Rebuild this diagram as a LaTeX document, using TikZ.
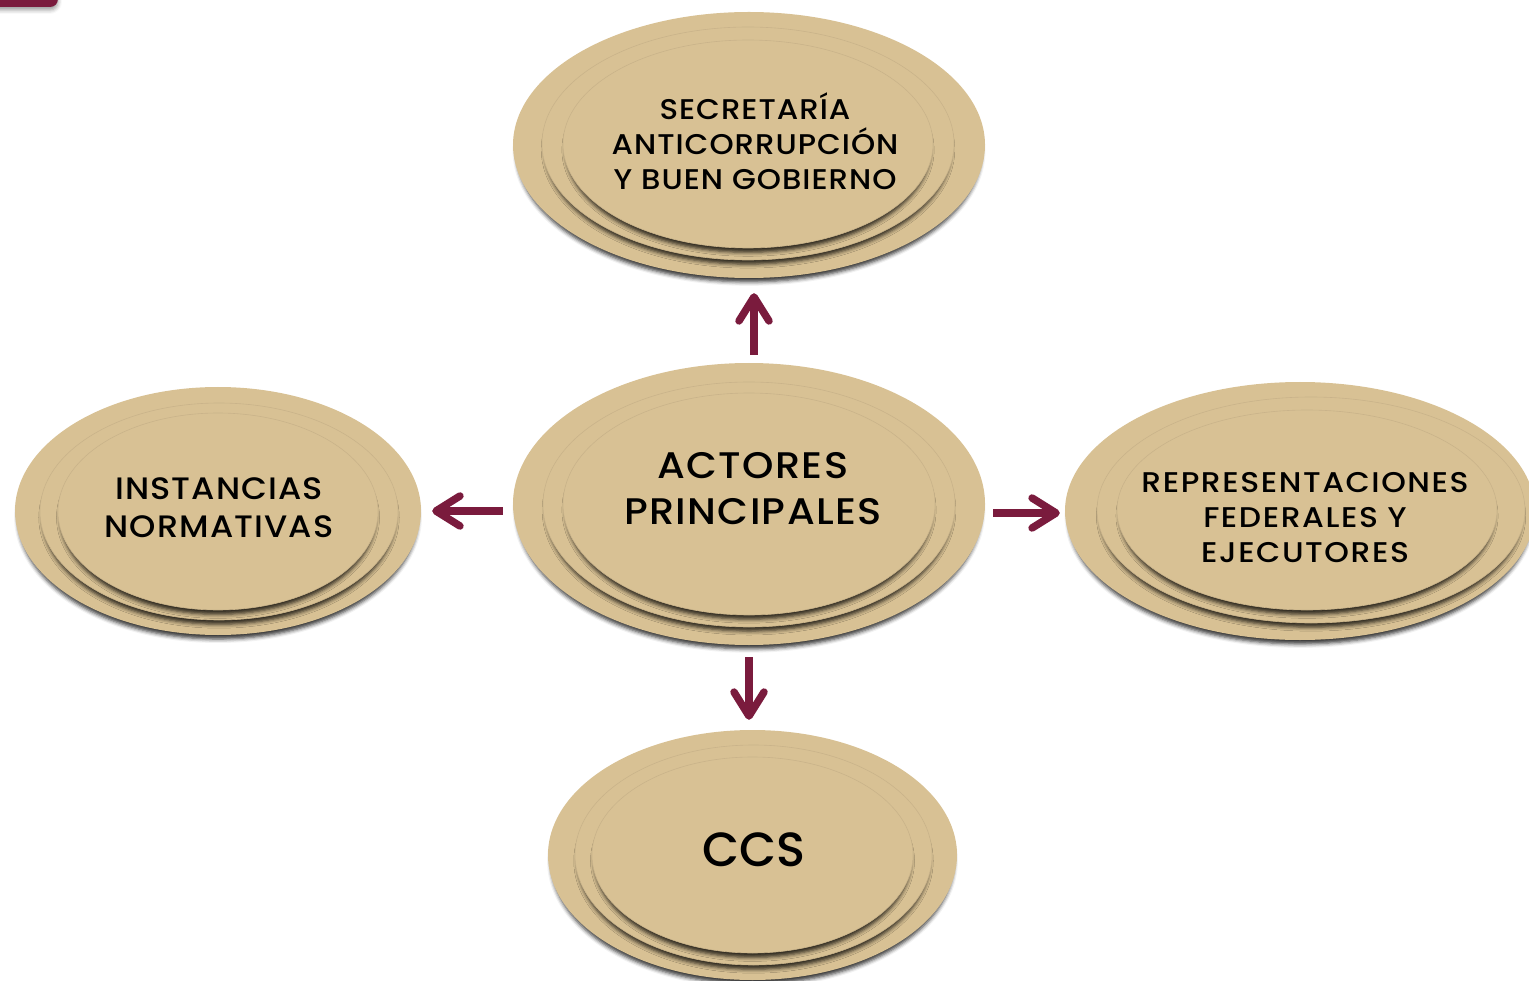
\documentclass[tikz,border=0pt]{standalone}
\usepackage{fontspec}
\setmainfont{Poppins}[UprightFont=* Medium]
\newfontfamily\spaced{Poppins}[UprightFont=* Medium, FakeStretch=1.08, LetterSpace=3.5]
\newfontfamily\wspaced{Poppins}[UprightFont=* Medium, FakeStretch=1.1, LetterSpace=5.5]
\usetikzlibrary{shapes.geometric, arrows.meta, shadows.blur}
\definecolor{tanfill}{RGB}{216,193,148}
\definecolor{maroon}{RGB}{122,27,61}
\tikzset{
  ell/.style={ellipse, fill=tanfill, draw=none, inner sep=0pt,
    blur shadow={shadow xshift=0pt, shadow yshift=-6pt, shadow scale=0.985, shadow blur radius=4pt, shadow opacity=80}},
  rim/.style={draw=tanfill!93!black, line width=0.6pt},
  lbl/.style={align=center, text=black, inner sep=0pt},
  arr/.style={draw=maroon, line width=7.5pt,
    -{Straight Barb[round, length=24pt, width=30pt]}}
}
\begin{document}
\begin{tikzpicture}[x=1pt, y=-1pt]
\useasboundingbox (0,0) rectangle (1529,981);
\clip (0,0) rectangle (1529,981);
% corner tab
\fill[maroon, rounded corners=8pt, blur shadow={shadow xshift=0pt, shadow yshift=-3pt, shadow blur radius=4pt, shadow opacity=40}] (-20,-20) rectangle (58,7);
% top
\node[ell, minimum width=472pt, minimum height=266pt] (t) at (749,145) {};
\node[ell, rim, minimum width=412pt, minimum height=233pt] (t2) at (748,143.5) {};
\node[ell, rim, minimum width=370pt, minimum height=208pt] (t3) at (748,144) {};
\node[lbl, font=\spaced\fontsize{28.5}{35}\selectfont] (tt) at (755,141) {SECRETARÍA\\ANTICORRUPCIÓN\\Y BUEN GOBIERNO};
% center
\node[ell, minimum width=472pt, minimum height=282pt] (c) at (749,504) {};
\node[ell, rim, minimum width=412pt, minimum height=245pt] (c2) at (749,504.5) {};
\node[ell, rim, minimum width=372pt, minimum height=222pt] (c3) at (749,504) {};
\node[lbl, font=\spaced\fontsize{37}{46}\selectfont] (ct) at (753,489) {ACTORES\\PRINCIPALES};
% left
\node[ell, minimum width=406pt, minimum height=248pt] (l) at (218,511) {};
\node[ell, rim, minimum width=358pt, minimum height=217pt] (l2) at (219,511.5) {};
\node[ell, rim, minimum width=320pt, minimum height=197pt] (l3) at (218,511.5) {};
\node[lbl, font=\spaced\fontsize{31}{38}\selectfont] (lt) at (219,508) {INSTANCIAS\\NORMATIVAS};
% right
\node[ell, minimum width=470pt, minimum height=258pt] (r) at (1300,511) {};
\node[ell, rim, minimum width=428pt, minimum height=226pt] (r2) at (1311,510) {};
\node[ell, rim, minimum width=380pt, minimum height=200pt] (r3) at (1307,510) {};
\node[lbl, font=\wspaced\fontsize{28.5}{35}\selectfont] (rt) at (1305,518) {REPRESENTACIONES\\FEDERALES Y\\EJECUTORES};
% bottom
\node[ell, minimum width=409pt, minimum height=250pt] (b) at (752.5,855) {};
\node[ell, rim, minimum width=357pt, minimum height=220pt] (b2) at (753.5,855) {};
\node[ell, rim, minimum width=321pt, minimum height=196pt] (b3) at (752.5,855) {};
\node[lbl, font=\fontsize{48}{56}\selectfont] (bt) at (754,850) {CCS};
% arrows
\draw[arr, shorten <=8pt, shorten >=15pt] ([xshift=5pt]c.north) -- ([xshift=5pt]t.south);
\draw[arr, shorten <=12pt, shorten >=10pt] (c.south) -- (c.south |- b.north);
\draw[arr, shorten <=10pt, shorten >=11pt] (c.west |- l.east) -- (l.east);
\draw[arr, shorten <=8pt, shorten >=5pt] ([yshift=-2pt]c.east |- r.west) -- ([yshift=-2pt]r.west);
\end{tikzpicture}
\end{document}
